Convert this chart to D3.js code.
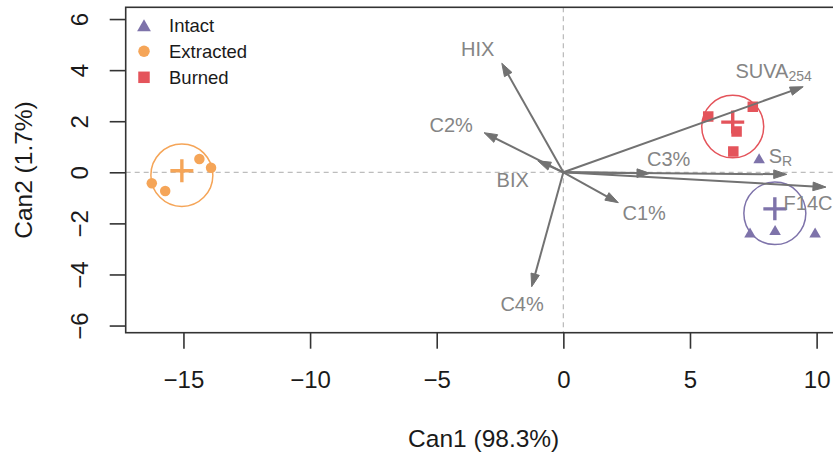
<!DOCTYPE html>
<html><head><meta charset="utf-8">
<script src="https://cdn.jsdelivr.net/npm/d3@7"></script>
<style>
html,body{margin:0;padding:0;background:#fff;overflow:hidden}
text{font-family:"Liberation Sans",Arial,Helvetica,sans-serif}
</style></head>
<body><svg id="c" width="833" height="454"></svg>
<script>
// ---------- data ----------
const categories = ["Intact", "Extracted", "Burned"];
const colors = ["#7e73aa", "#f5a558", "#e4545b"];
const intactX = [7.37, 8.36, 9.94, 7.73];
const intactY = [-2.36, -2.26, -2.36, 0.55];
const extractedX = [-14.37, -13.91, -16.25, -15.72];
const extractedY = [0.52, 0.18, -0.43, -0.73];
const burnedX = [5.72, 7.48, 6.84, 6.71];
const burnedY = [2.18, 2.57, 1.60, 0.81];
const circleRadius = 1.2238; // sqrt(qchisq(0.95,2)/n), n = 4

const vecNames = ["HIX", "C2%", "BIX", "C1%", "C4%", "SUVA", "C3%", "S", "F14C"];
const vecSubs  = ["", "", "", "", "", "254", "", "R", ""];
const vecX = [-2.43, -3.13, -1.01, 2.17, -1.25, 9.47, 3.42, 8.82, 10.37];
const vecY = [4.27, 1.55, 0.45, -1.19, -4.48, 3.35, -0.04, -0.08, -0.58];
const labelX = [-3.38, -4.43, -2.00, 3.19, -1.63, 8.30, 4.16, 8.57, 9.66];
const labelY = [4.85, 1.85, -0.30, -1.59, -5.13, 3.96, 0.52, 0.64, -1.18];

const xTicks = [-15, -10, -5, 0, 5, 10];
const yTicks = [-6, -4, -2, 0, 2, 4, 6];
const xTitle = "Can1 (98.3%)";
const yTitle = "Can2 (1.7%)";

// ---------- chart ----------
const svg = d3.select("#c");
const L = 125.7, R = 841.7, T = 7.3, B = 332.7;
const x = d3.scaleLinear().domain([-17.28, 10.99]).range([L, R]);
const y = d3.scaleLinear().domain([-6.28, 6.46]).range([B, T]);

const groups = [
  {name: categories[0], color: colors[0], xs: intactX, ys: intactY, shape: "tri"},
  {name: categories[1], color: colors[1], xs: extractedX, ys: extractedY, shape: "circ"},
  {name: categories[2], color: colors[2], xs: burnedX, ys: burnedY, shape: "sq"}
];

const clipId = "plotclip";
svg.append("clipPath").attr("id", clipId).append("rect")
  .attr("x", L).attr("y", T).attr("width", R - L).attr("height", B - T);
const plot = svg.append("g").attr("clip-path", `url(#${clipId})`);

// reference lines
plot.append("line").attr("x1", x(0)).attr("x2", x(0)).attr("y1", T).attr("y2", B)
  .attr("stroke", "#bdbdbd").attr("stroke-width", 1.3).attr("stroke-dasharray", "5,4");
plot.append("line").attr("x1", L).attr("x2", R).attr("y1", y(0)).attr("y2", y(0))
  .attr("stroke", "#bdbdbd").attr("stroke-width", 1.3).attr("stroke-dasharray", "5,4");

function symbolPath(shape, s) {
  if (shape === "tri") {
    const w = s * 1.1, h = s * 0.95;
    return `M0,${-h/2}L${w/2},${h/2}L${-w/2},${h/2}Z`;
  }
  if (shape === "sq") {
    return `M${-s/2},${-s/2}h${s}v${s}h${-s}Z`;
  }
  return d3.symbol(d3.symbolCircle, Math.PI * (s/2) * (s/2))();
}

// points, circles, means
groups.forEach(g => {
  const mx = d3.mean(g.xs), my = d3.mean(g.ys);
  plot.append("ellipse")
    .attr("cx", x(mx)).attr("cy", y(my))
    .attr("rx", x(circleRadius) - x(0)).attr("ry", y(0) - y(circleRadius))
    .attr("fill", "none").attr("stroke", g.color).attr("stroke-width", 1.5);
  plot.selectAll(null).data(g.xs.map((v, i) => [v, g.ys[i]])).enter()
    .append("path")
    .attr("transform", d => `translate(${x(d[0])},${y(d[1])})`)
    .attr("d", symbolPath(g.shape, 10.5))
    .attr("fill", g.color);
  const px = x(mx), py = y(my) - 4.5, hl = 11.5;
  plot.append("path")
    .attr("d", `M${px - hl},${py}H${px + hl}M${px},${py - hl}V${py + hl}`)
    .attr("stroke", g.color).attr("stroke-width", 3.4).attr("fill", "none");
});

// vectors
const arrowCol = "#727272";
const vecs = vecNames.map((n, i) => ({n, sub: vecSubs[i], vx: vecX[i], vy: vecY[i], lx: labelX[i], ly: labelY[i]}));
vecs.forEach(v => {
  const x0 = x(0), y0 = y(0), x1 = x(v.vx), y1 = y(v.vy);
  const ang = Math.atan2(y1 - y0, x1 - x0);
  const hl = 13, hw = 4.3;
  const bx = x1 - hl * Math.cos(ang), by = y1 - hl * Math.sin(ang);
  plot.append("line").attr("x1", x0).attr("y1", y0)
    .attr("x2", x1 - 4 * Math.cos(ang)).attr("y2", y1 - 4 * Math.sin(ang))
    .attr("stroke", arrowCol).attr("stroke-width", 2);
  const lx = bx + hw * Math.sin(ang), ly = by - hw * Math.cos(ang);
  const rx = bx - hw * Math.sin(ang), ry = by + hw * Math.cos(ang);
  plot.append("path").attr("d", `M${x1},${y1}L${lx},${ly}L${rx},${ry}Z`)
    .attr("fill", arrowCol).attr("stroke", arrowCol).attr("stroke-width", 1).attr("stroke-linejoin", "miter");
  const t = plot.append("text").attr("x", x(v.lx)).attr("y", y(v.ly)).attr("dy", "0.36em")
    .attr("text-anchor", "middle").attr("font-size", 20).attr("fill", "#858585").text(v.n);
  if (v.sub) t.append("tspan").attr("font-size", 14).attr("dy", 3).text(v.sub);
});

// frame
svg.append("rect").attr("x", L).attr("y", T).attr("width", R - L).attr("height", B - T)
  .attr("fill", "none").attr("stroke", "#333").attr("stroke-width", 1.6);

// axes
const xAxis = svg.append("g").attr("transform", `translate(0,${B})`)
  .call(d3.axisBottom(x).tickValues(xTicks).tickSize(16).tickPadding(22)
    .tickFormat(d => d3.format("")(d).replace("-", "\u2212")));
const yAxis = svg.append("g").attr("transform", `translate(${L},0)`)
  .call(d3.axisLeft(y).tickValues(yTicks).tickSize(16).tickFormat(d => d3.format("")(d).replace("-", "\u2212")));
[xAxis, yAxis].forEach(a => {
  a.select(".domain").remove();
  a.selectAll(".tick line").attr("stroke", "#333").attr("stroke-width", 1.6);
  a.selectAll(".tick text").attr("font-size", 24).attr("fill", "#1a1a1a")
    .attr("font-family", "Liberation Sans, Arial, sans-serif");
});
xAxis.selectAll(".tick text").attr("dy", "0.71em");
yAxis.selectAll(".tick text")
  .attr("x", null).attr("dy", null)
  .attr("text-anchor", "middle")
  .attr("transform", "translate(-46,0) rotate(-90)")
  .attr("y", 8.5);

// titles
svg.append("text").attr("x", (L + R) / 2).attr("y", 447).attr("text-anchor", "middle")
  .attr("font-size", 24.5).attr("fill", "#1a1a1a").text(xTitle);
svg.append("text").attr("transform", `translate(32,${(T + B) / 2}) rotate(-90)`)
  .attr("text-anchor", "middle").attr("font-size", 24.5).attr("fill", "#1a1a1a").text(yTitle);

// legend
const leg = svg.append("g");
groups.forEach((g, i) => {
  const ly = 25.3 + i * 26;
  leg.append("path").attr("transform", `translate(144,${ly})`)
    .attr("d", symbolPath(g.shape, g.shape === "tri" ? 12.5 : 11.5)).attr("fill", g.color);
  leg.append("text").attr("x", 169).attr("y", ly).attr("dy", "0.36em")
    .attr("font-size", 18.5).attr("fill", "#1a1a1a").text(g.name);
});
</script></body></html>
